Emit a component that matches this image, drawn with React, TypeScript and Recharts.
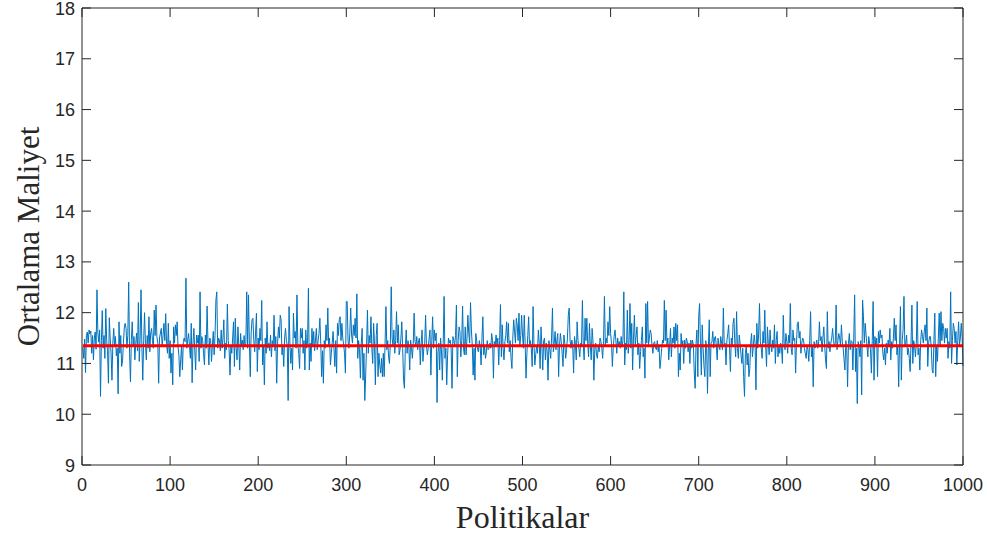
import { LineChart, Line, XAxis, YAxis } from "recharts";

// average cost per policy in blocks of 100 policies
const cost001to100 = [
  11.32, 11.1, 11.48, 10.82, 11.55, 11.62, 11.4, 11.66, 11.58, 11.64,
  11.2, 11.55, 11.07, 11.5, 11.62, 11.28, 12.45, 11.6, 11.42, 11.66,
  10.35, 11.45, 12.04, 11.3, 11.55, 11.1, 12.08, 11.45, 11.25, 10.61,
  11.9, 11.5, 11.2, 10.67, 11.4, 11.69, 11.35, 11.53, 11.15, 11.3,
  10.4, 11.82, 11.2, 11.55, 10.94, 11.05, 11.4, 11.7, 11.79, 11.69,
  11.3, 11.55, 12.6, 11.2, 10.64, 11.45, 11.82, 11.35, 11.53, 11.07,
  11.4, 11.6, 11.25, 12.2, 11.04, 11.5, 12.45, 11.3, 10.67, 11.45,
  12.0, 11.4, 11.07, 11.55, 11.3, 11.92, 11.23, 11.6, 11.69, 11.45,
  11.3, 12.05, 11.55, 12.15, 11.53, 11.4, 10.61, 11.5, 11.6, 11.69,
  11.35, 11.55, 11.79, 11.45, 11.98, 11.4, 11.2, 11.79, 11.1, 11.45,
];
const cost101to200 = [
  10.81, 11.2, 10.58, 11.72, 11.4, 11.76, 11.55, 11.82, 11.33, 11.15,
  10.74, 11.07, 11.35, 10.87, 11.43, 11.5, 11.43, 12.68, 11.3, 11.46,
  11.59, 11.35, 11.1, 11.79, 10.62, 11.4, 11.69, 11.25, 10.87, 11.56,
  11.4, 11.56, 11.04, 12.41, 11.3, 11.53, 11.45, 11.2, 10.97, 11.56,
  11.3, 12.13, 11.4, 10.97, 11.5, 11.46, 11.04, 11.35, 11.63, 11.17,
  11.55, 12.25, 12.41, 11.3, 11.5, 11.46, 11.25, 11.66, 11.3, 11.5,
  11.86, 11.1, 11.4, 11.27, 12.17, 11.45, 11.27, 10.77, 11.35, 11.2,
  11.5, 11.82, 10.94, 11.89, 11.3, 11.07, 11.72, 11.35, 10.87, 11.59,
  11.35, 11.46, 11.27, 11.55, 11.33, 11.4, 12.41, 11.3, 12.35, 11.4,
  10.74, 11.6, 11.86, 11.89, 11.45, 11.23, 11.6, 11.99, 10.84, 11.5,
];
const cost201to300 = [
  11.27, 11.69, 11.45, 12.24, 10.97, 11.35, 10.58, 11.5, 11.2, 11.82,
  11.3, 11.4, 11.25, 11.56, 11.13, 11.45, 11.36, 11.95, 11.25, 11.53,
  10.61, 11.4, 11.72, 11.5, 11.95, 11.86, 11.17, 11.35, 10.94, 11.5,
  11.69, 11.45, 11.36, 10.27, 12.12, 11.4, 11.0, 11.3, 10.87, 11.99,
  11.5, 11.63, 11.3, 12.35, 11.36, 11.2, 10.9, 11.69, 11.5, 11.69,
  11.2, 11.45, 10.87, 11.66, 11.3, 11.4, 12.48, 10.87, 11.4, 11.04,
  11.69, 11.35, 11.63, 11.25, 11.46, 11.69, 11.27, 11.45, 11.59, 11.89,
  11.4, 10.74, 11.25, 10.61, 11.45, 11.3, 11.76, 11.45, 12.09, 11.36,
  11.5, 10.97, 11.2, 11.4, 11.63, 11.3, 10.94, 11.45, 10.81, 11.79,
  11.55, 11.86, 11.92, 11.45, 11.79, 11.5, 11.36, 11.2, 10.81, 12.22,
];
const cost301to400 = [
  12.22, 11.45, 11.3, 11.6, 12.09, 11.56, 11.4, 11.76, 11.55, 11.89,
  11.5, 12.37, 11.1, 11.45, 11.27, 10.71, 11.4, 11.69, 10.67, 11.2,
  10.27, 10.77, 11.35, 12.05, 11.2, 11.55, 11.4, 11.92, 11.3, 11.0,
  11.79, 11.4, 10.58, 11.55, 11.79, 10.74, 11.2, 10.97, 10.81, 11.1,
  10.74, 11.2, 10.74, 11.4, 12.12, 11.27, 11.45, 11.13, 11.0, 11.4,
  12.51, 11.5, 11.35, 11.66, 11.2, 11.45, 12.02, 11.4, 11.76, 11.17,
  11.27, 11.5, 11.82, 11.3, 10.67, 10.51, 11.3, 11.66, 11.2, 11.45,
  11.33, 10.87, 11.46, 11.3, 11.1, 11.4, 11.99, 11.43, 11.35, 11.53,
  11.27, 11.45, 11.5, 10.97, 11.4, 11.66, 11.04, 11.3, 11.4, 11.95,
  11.35, 11.17, 11.3, 11.5, 11.66, 10.77, 11.45, 11.92, 11.3, 11.66,
];
const cost401to500 = [
  11.45, 11.6, 10.23, 11.23, 11.4, 10.87, 11.5, 11.27, 10.67, 11.4,
  12.32, 11.1, 11.3, 10.58, 11.17, 11.5, 11.4, 11.46, 11.3, 10.51,
  11.53, 11.45, 11.36, 11.55, 12.15, 10.74, 11.45, 11.72, 11.63, 11.13,
  11.45, 12.13, 11.3, 11.17, 11.72, 11.17, 11.5, 11.95, 11.59, 11.4,
  12.2, 11.66, 11.35, 10.77, 11.3, 10.67, 11.59, 11.45, 11.27, 11.23,
  11.45, 11.33, 10.97, 11.5, 11.92, 11.17, 11.35, 11.1, 11.23, 11.45,
  11.27, 11.3, 11.4, 11.3, 11.59, 11.45, 10.71, 11.43, 11.35, 11.56,
  11.36, 11.5, 10.97, 11.45, 12.16, 11.13, 11.76, 11.3, 11.07, 11.43,
  11.55, 11.82, 11.4, 11.79, 11.23, 11.45, 11.1, 10.9, 11.5, 11.86,
  11.63, 11.4, 11.89, 11.76, 11.45, 11.99, 11.36, 11.55, 11.95, 11.56,
];
const cost501to600 = [
  11.3, 11.95, 11.4, 10.71, 11.2, 11.55, 11.92, 11.33, 11.45, 11.3,
  10.94, 12.12, 11.4, 10.97, 11.17, 11.35, 11.2, 11.66, 11.4, 10.9,
  11.72, 11.35, 10.87, 11.45, 11.5, 11.07, 11.4, 11.23, 10.67, 11.45,
  11.27, 11.1, 11.5, 12.09, 11.23, 11.4, 11.63, 11.27, 11.45, 11.59,
  10.74, 11.35, 11.59, 11.43, 11.2, 10.94, 11.56, 11.4, 11.1, 11.27,
  11.5, 11.95, 12.09, 11.46, 11.3, 11.46, 11.35, 10.81, 11.53, 11.4,
  11.07, 11.82, 11.45, 11.3, 11.13, 11.4, 11.36, 12.24, 11.35, 11.07,
  11.89, 11.45, 11.89, 11.4, 11.13, 11.79, 11.35, 11.07, 11.69, 11.45,
  10.67, 11.27, 11.4, 11.17, 11.1, 11.35, 11.23, 11.5, 11.43, 11.3,
  11.1, 11.45, 12.32, 11.36, 11.5, 11.4, 11.82, 11.55, 12.12, 11.59,
];
const cost601to700 = [
  11.4, 10.94, 11.3, 11.53, 11.66, 11.45, 11.2, 11.5, 11.36, 11.43,
  11.3, 11.53, 11.33, 11.45, 12.41, 10.97, 11.4, 11.27, 12.05, 11.2,
  11.45, 12.18, 11.3, 11.79, 10.87, 11.5, 11.95, 11.36, 11.55, 11.72,
  11.17, 11.4, 10.9, 11.23, 11.45, 11.72, 11.13, 11.3, 10.71, 12.18,
  11.4, 12.22, 11.36, 11.5, 11.66, 11.59, 11.35, 11.2, 11.4, 11.43,
  11.3, 11.27, 11.45, 11.23, 11.35, 10.9, 11.07, 11.3, 11.46, 11.4,
  12.24, 11.45, 12.05, 11.36, 11.5, 11.07, 11.35, 11.69, 11.13, 11.5,
  11.4, 11.72, 11.3, 11.79, 11.45, 11.76, 10.74, 11.2, 10.87, 11.59,
  11.33, 11.45, 11.0, 11.46, 11.3, 11.5, 11.43, 11.23, 11.4, 11.0,
  11.46, 11.3, 11.46, 11.35, 10.81, 10.51, 11.4, 11.66, 10.74, 11.92,
];
const cost701to800 = [
  12.18, 11.4, 10.77, 11.76, 11.3, 10.94, 10.74, 11.45, 11.3, 10.41,
  11.35, 11.86, 10.74, 11.4, 11.43, 11.63, 11.3, 11.5, 11.53, 11.35,
  11.07, 11.5, 11.35, 11.27, 11.53, 11.4, 11.27, 12.09, 11.35, 11.4,
  10.97, 11.45, 11.59, 11.76, 11.3, 10.84, 11.5, 11.35, 11.79, 11.89,
  11.4, 11.13, 12.02, 11.3, 11.1, 11.56, 11.4, 11.17, 11.0, 11.3,
  10.74, 10.35, 11.2, 11.35, 10.97, 11.2, 10.74, 10.9, 11.4, 11.59,
  11.13, 11.35, 11.56, 11.4, 10.48, 11.79, 11.3, 11.56, 12.18, 11.43,
  11.3, 11.1, 11.63, 11.4, 12.05, 11.35, 10.94, 11.72, 11.4, 11.17,
  11.66, 11.35, 11.23, 11.46, 11.3, 11.76, 11.0, 11.45, 11.63, 11.13,
  11.35, 11.2, 11.4, 11.3, 11.0, 11.95, 11.4, 11.27, 11.59, 11.43,
];
const cost801to900 = [
  11.2, 11.56, 11.4, 12.18, 11.3, 11.17, 11.66, 11.45, 11.5, 10.81,
  11.4, 11.79, 11.82, 11.5, 11.63, 11.2, 11.4, 11.5, 11.46, 11.3,
  11.2, 11.1, 11.35, 11.27, 11.04, 11.45, 12.02, 11.13, 11.35, 10.54,
  11.43, 11.3, 11.36, 11.46, 11.3, 11.36, 11.82, 11.45, 11.53, 11.23,
  11.5, 11.72, 11.35, 11.07, 10.9, 12.02, 11.3, 11.43, 11.23, 11.4,
  11.5, 11.69, 11.45, 11.33, 11.4, 12.15, 11.27, 11.45, 11.59, 11.5,
  11.35, 11.76, 11.43, 11.3, 11.07, 10.87, 11.45, 11.3, 10.54, 11.4,
  11.59, 11.27, 11.45, 11.43, 10.87, 11.5, 12.35, 10.84, 11.3, 10.21,
  11.43, 11.35, 11.13, 11.45, 10.38, 12.25, 11.92, 11.4, 11.79, 11.56,
  11.35, 11.13, 11.53, 11.4, 11.27, 10.81, 11.45, 12.22, 10.67, 11.53,
];
const cost901to1000 = [
  11.36, 11.5, 10.74, 11.63, 11.4, 11.66, 11.5, 11.56, 11.2, 11.07,
  11.3, 10.97, 11.4, 11.2, 11.46, 11.35, 11.69, 11.07, 11.43, 11.3,
  11.5, 11.89, 11.45, 11.76, 11.17, 11.35, 10.54, 11.4, 12.12, 10.67,
  11.45, 11.66, 12.32, 11.33, 11.4, 11.56, 11.17, 11.3, 11.1, 10.84,
  11.4, 12.15, 11.0, 11.45, 11.36, 11.13, 11.4, 12.22, 11.17, 11.3,
  10.87, 11.45, 11.66, 11.53, 11.4, 11.63, 11.76, 11.45, 12.09, 10.94,
  11.4, 11.53, 11.53, 11.3, 10.87, 10.81, 11.45, 11.99, 10.74, 11.35,
  11.04, 11.5, 11.99, 11.33, 12.02, 11.45, 11.79, 11.69, 11.4, 11.69,
  11.5, 11.69, 11.1, 11.43, 11.3, 12.41, 11.0, 11.45, 11.79, 11.69,
  11.4, 11.63, 10.97, 11.45, 11.82, 11.36, 11.5, 11.79, 11.53, 10.95,
];

const meanCost = 11.35;
const xTicks = [0, 100, 200, 300, 400, 500, 600, 700, 800, 900, 1000];
const yTicks = [9, 10, 11, 12, 13, 14, 15, 16, 17, 18];

const costs = [
  ...cost001to100, ...cost101to200, ...cost201to300, ...cost301to400,
  ...cost401to500, ...cost501to600, ...cost601to700, ...cost701to800,
  ...cost801to900, ...cost901to1000,
];
const data = costs.map((c, i) => ({ policy: i + 1, cost: c, mean: meanCost }));

const AXIS = "#262626";
const TICK_FONT = "'Liberation Sans', Arial, sans-serif";
const LABEL_FONT = "'Liberation Serif', 'Times New Roman', serif";
const TICK_LEN = 9;

const LeftTick = (p: any) => (
  <g>
    <line x1={p.x} x2={p.x + TICK_LEN} y1={p.y} y2={p.y} stroke={AXIS} />
    <text x={p.x - 7} y={p.y} dy={6.5} textAnchor="end" fill={AXIS}
      fontFamily={TICK_FONT} fontSize={18}>{p.payload.value}</text>
  </g>
);
const RightTick = (p: any) => (
  <line x1={p.x - TICK_LEN} x2={p.x} y1={p.y} y2={p.y} stroke={AXIS} />
);
const BottomTick = (p: any) => (
  <g>
    <line x1={p.x} x2={p.x} y1={p.y - TICK_LEN} y2={p.y} stroke={AXIS} />
    <text x={p.x} y={p.y + 26} textAnchor="middle" fill={AXIS}
      fontFamily={TICK_FONT} fontSize={18}>{p.payload.value}</text>
  </g>
);
const TopTick = (p: any) => (
  <line x1={p.x} x2={p.x} y1={p.y} y2={p.y + TICK_LEN} stroke={AXIS} />
);

export default function App() {
  return (
    <div style={{ width: 987, height: 536 }}>
      <style>{"body{margin:0}"}</style>
      <LineChart width={987} height={536} data={data}
        margin={{ top: 7, right: 23, bottom: 0, left: 0 }}>
        <XAxis dataKey="policy" type="number" domain={[0, 1000]} ticks={xTicks}
          height={71} tickLine={false} tickSize={0} tickMargin={0}
          stroke={AXIS} tick={BottomTick} interval={0}
          label={{
            content: (lp: any) => (
              <text x={lp.viewBox.x + lp.viewBox.width / 2} y={528}
                textAnchor="middle" fill={AXIS} fontFamily={LABEL_FONT}
                fontSize={32}>Politikalar</text>
            ),
          }} />
        <XAxis xAxisId="top" orientation="top" dataKey="policy" type="number"
          domain={[0, 1000]} ticks={xTicks} height={1} tickLine={false}
          tickSize={0} tickMargin={0} stroke={AXIS} tick={TopTick} interval={0} />
        <YAxis type="number" domain={[9, 18]} ticks={yTicks} width={82}
          tickLine={false} tickSize={0} tickMargin={0} stroke={AXIS}
          tick={LeftTick} interval={0}
          label={{
            content: (lp: any) => {
              const cy = lp.viewBox.y + lp.viewBox.height / 2;
              return (
                <text x={39} y={cy} transform={`rotate(-90 39 ${cy})`}
                  textAnchor="middle" fill={AXIS} fontFamily={LABEL_FONT}
                  fontSize={31}>Ortalama Maliyet</text>
              );
            },
          }} />
        <YAxis yAxisId="right" orientation="right" type="number" domain={[9, 18]}
          ticks={yTicks} width={1} tickLine={false} tickSize={0} tickMargin={0}
          stroke={AXIS} tick={RightTick} interval={0} />
        <Line dataKey="cost" stroke="#0072BD" strokeWidth={1} dot={false}
          isAnimationActive={false} />
        <Line dataKey="mean" xAxisId="top" yAxisId="right" stroke="#FF0000"
          strokeWidth={3} dot={false} isAnimationActive={false} />
      </LineChart>
    </div>
  );
}
